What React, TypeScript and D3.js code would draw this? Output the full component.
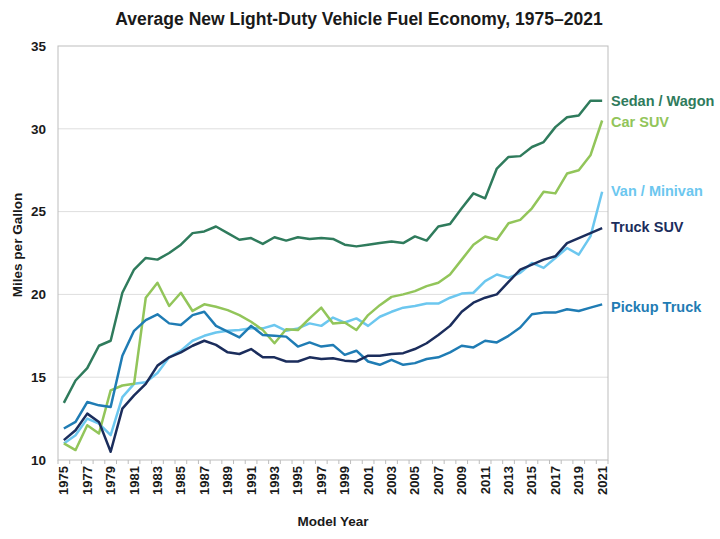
import * as d3 from 'd3';

const years = [
  1975, 1976, 1977, 1978, 1979, 1980, 1981, 1982, 1983, 1984, 1985, 1986, 1987,
  1988, 1989, 1990, 1991, 1992, 1993, 1994, 1995, 1996, 1997, 1998, 1999,
  2000, 2001, 2002, 2003, 2004, 2005, 2006, 2007, 2008, 2009,
  2010, 2011, 2012, 2013, 2014, 2015, 2016, 2017, 2018, 2019, 2020, 2021,
];

const sedanWagon = [
  13.45, 14.8, 15.55, 16.9, 17.2, 20.1, 21.5, 22.2, 22.1, 22.5, 23.0, 23.7, 23.8,
  24.1, 23.7, 23.3, 23.4, 23.05, 23.45, 23.25, 23.45, 23.35, 23.4, 23.35, 23.0,
  22.9, 23.0, 23.1, 23.2, 23.1, 23.5, 23.25, 24.1, 24.25, 25.2,
  26.1, 25.8, 27.6, 28.3, 28.35, 28.9, 29.2, 30.1, 30.7, 30.8, 31.7, 31.7,
];

const carSuv = [
  11.0, 10.6, 12.1, 11.6, 14.2, 14.5, 14.6, 19.8, 20.7, 19.3, 20.1, 19.0, 19.4,
  19.25, 19.05, 18.75, 18.35, 17.85, 17.05, 17.9, 17.85, 18.55, 19.2, 18.25, 18.3,
  17.85, 18.75, 19.35, 19.85, 20.0, 20.2, 20.5, 20.7, 21.2, 22.1,
  23.0, 23.5, 23.3, 24.3, 24.5, 25.2, 26.2, 26.1, 27.3, 27.5, 28.4, 30.5,
];

const vanMinivan = [
  11.0, 11.5, 12.5, 12.2, 11.5, 13.8, 14.6, 14.7, 15.25, 16.2, 16.6, 17.2, 17.5,
  17.7, 17.8, 17.85, 17.95, 17.95, 18.15, 17.8, 17.95, 18.25, 18.1, 18.6, 18.3,
  18.55, 18.1, 18.65, 18.95, 19.2, 19.3, 19.45, 19.45, 19.8, 20.05,
  20.1, 20.8, 21.2, 21.0, 21.3, 21.9, 21.6, 22.2, 22.8, 22.4, 23.5, 26.2,
];

const truckSuv = [
  11.2, 11.8, 12.8, 12.3, 10.5, 13.1, 13.9, 14.6, 15.7, 16.2, 16.5, 16.9, 17.2,
  16.95, 16.5, 16.4, 16.7, 16.2, 16.2, 15.95, 15.95, 16.2, 16.1, 16.15, 16.0,
  15.95, 16.3, 16.3, 16.4, 16.45, 16.7, 17.05, 17.55, 18.1, 18.95,
  19.5, 19.8, 20.0, 20.75, 21.5, 21.8, 22.1, 22.3, 23.1, 23.4, 23.7, 24.0,
];

const pickupTruck = [
  11.9, 12.3, 13.5, 13.3, 13.2, 16.3, 17.8, 18.45, 18.8, 18.25, 18.15, 18.75, 18.95,
  18.1, 17.75, 17.4, 18.1, 17.55, 17.5, 17.45, 16.85, 17.1, 16.85, 16.95, 16.35,
  16.6, 15.95, 15.75, 16.05, 15.75, 15.85, 16.1, 16.2, 16.5, 16.9,
  16.8, 17.2, 17.1, 17.5, 18.0, 18.8, 18.9, 18.9, 19.1, 19.0, 19.2, 19.4,
];

const yTicks = [10, 15, 20, 25, 30, 35];
const xTickLabels = [
  1975, 1977, 1979, 1981, 1983, 1985, 1987, 1989, 1991, 1993, 1995, 1997,
  1999, 2001, 2003, 2005, 2007, 2009, 2011, 2013, 2015, 2017, 2019, 2021,
];

// draw order: last one on top
const series = [
  { name: 'Van / Minivan', values: vanMinivan, color: '#6cc7ef', labelY: 191 },
  { name: 'Car SUV', values: carSuv, color: '#92c55a', labelY: 122 },
  { name: 'Pickup Truck', values: pickupTruck, color: '#1f7cb4', labelY: 307 },
  { name: 'Truck SUV', values: truckSuv, color: '#1b2d5c', labelY: 227 },
  { name: 'Sedan / Wagon', values: sedanWagon, color: '#2f7b5c', labelY: 101 },
];

const W = 720;
const H = 539;
const left = 58;
const right = 608;
const top = 46;
const bottom = 460;
const font = '"Liberation Sans", Arial, sans-serif';

export default function App() {
  const x = d3.scaleBand<number>().domain(years).range([left, right]).padding(0);
  const cx = (yr: number) => (x(yr) ?? 0) + x.bandwidth() / 2;
  const y = d3.scaleLinear().domain([10, 35]).range([bottom, top]);

  const line = d3
    .line<number>()
    .x((_, i) => cx(years[i]))
    .y((d) => y(d));

  // tick marks sit between categories (Excel-style)
  const tickPos = years.map((yr) => x(yr) ?? 0).concat([right]);

  return (
    <svg
      width={W}
      height={H}
      style={{ position: 'absolute', left: 0, top: 0, background: '#fff' }}
      fontFamily={font}
    >
      <text x={359} y={25} textAnchor="middle" fontSize={17.5} fontWeight="bold" fill="#1a1a1a">
        Average New Light-Duty Vehicle Fuel Economy, 1975–2021
      </text>

      {yTicks.map((t) => (
        <g key={t}>
          {t !== 10 && t !== 35 && (
            <line x1={left} x2={right} y1={y(t)} y2={y(t)} stroke="#dedede" strokeWidth={1} />
          )}
          <text x={46} y={y(t)} dy="0.35em" textAnchor="end" fontSize={13.5} fontWeight="bold" fill="#1a1a1a">
            {t}
          </text>
        </g>
      ))}

      <rect x={left} y={top} width={right - left} height={bottom - top} fill="none" stroke="#bdbdbd" strokeWidth={1} />

      {tickPos.map((p, i) => (
        <line key={i} x1={p} x2={p} y1={bottom} y2={bottom + 4} stroke="#bdbdbd" strokeWidth={1} />
      ))}

      {xTickLabels.map((yr) => (
        <text
          key={yr}
          transform={`translate(${cx(yr) + 4.5},${bottom + 6}) rotate(-90)`}
          textAnchor="end"
          fontSize={13}
          fontWeight="bold"
          fill="#1a1a1a"
        >
          {yr}
        </text>
      ))}

      <text x={(left + right) / 2} y={526} textAnchor="middle" fontSize={13.5} fontWeight="bold" fill="#1a1a1a">
        Model Year
      </text>
      <text
        transform={`translate(22,${(top + bottom) / 2 - 8}) rotate(-90)`}
        textAnchor="middle"
        fontSize={13.5}
        fontWeight="bold"
        fill="#1a1a1a"
      >
        Miles per Gallon
      </text>

      {series.map((s) => (
        <path
          key={s.name}
          d={line(s.values) ?? ''}
          fill="none"
          stroke={s.color}
          strokeWidth={2.5}
          strokeLinejoin="round"
        />
      ))}

      {series.map((s) => (
        <text key={s.name} x={611} y={s.labelY} dy="0.35em" fontSize={14.5} fontWeight="bold" fill={s.color}>
          {s.name}
        </text>
      ))}
    </svg>
  );
}
